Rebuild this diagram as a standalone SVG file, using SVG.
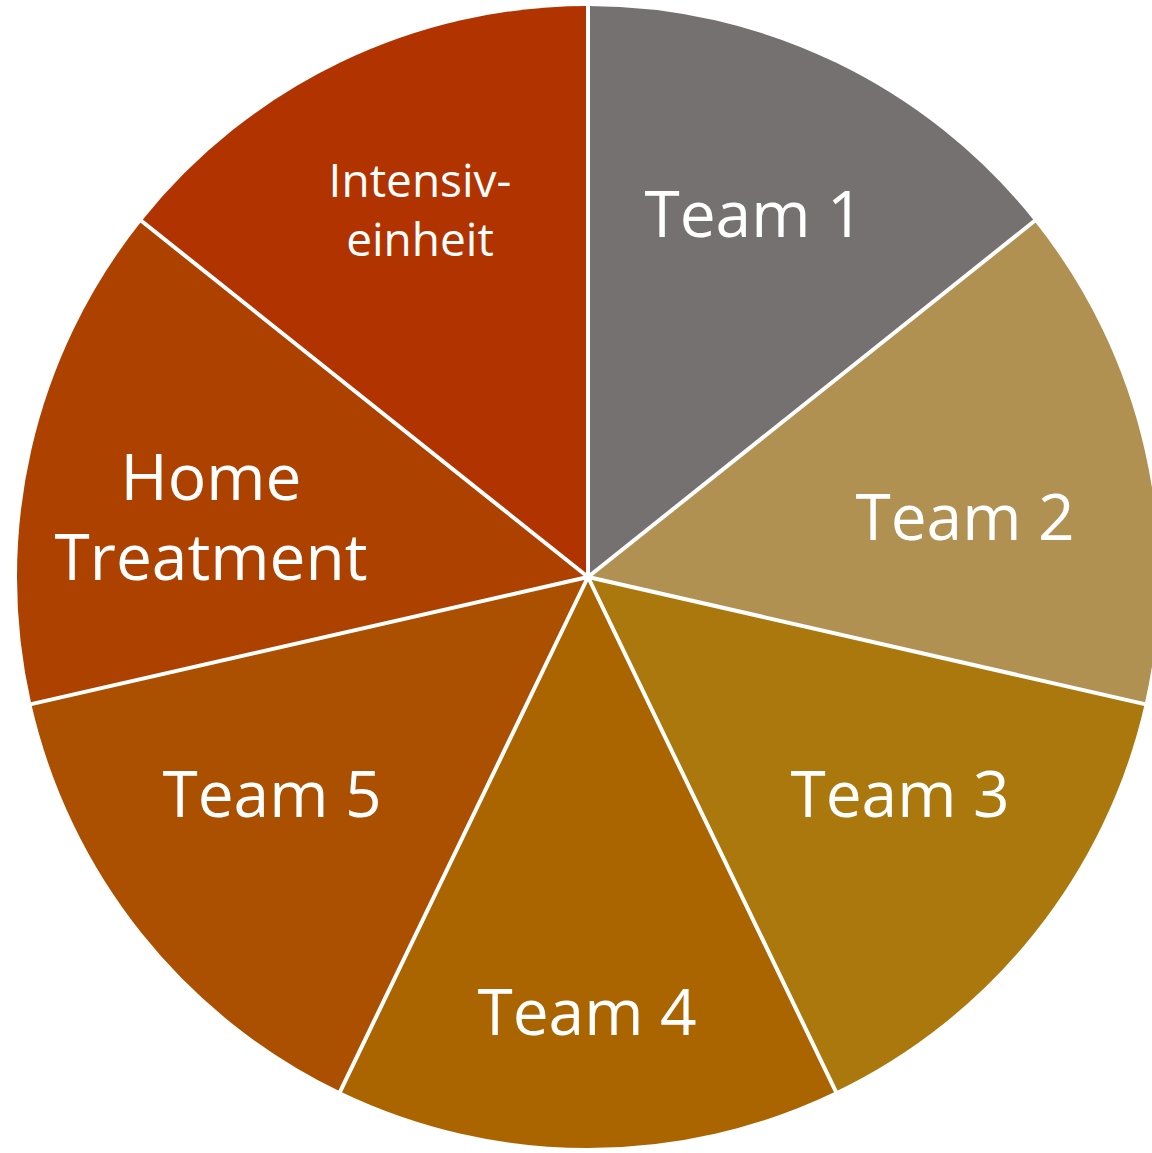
<svg xmlns="http://www.w3.org/2000/svg" width="1152" height="1153" viewBox="0 0 1152 1153">
<style>
.s{stroke:#FFFFFF;stroke-width:4;stroke-linejoin:round}
.t{font-family:"Open Sans","Liberation Sans",sans-serif;fill:#FFFFFF;text-anchor:middle;font-size:64px}
.ts{font-size:46px}
</style>
<rect width="1152" height="1153" fill="#FFFFFF"/>
<g id="team1"><path d="M588,577 L588,6 A571,571 0 0 1 1034.4,221 Z" fill="#767171"/><text class="t" x="754" y="237">Team 1</text></g>
<g id="team2"><path d="M588,577 L1034.4,221 A571,571 0 0 1 1144.7,704.1 Z" fill="#B09152"/><text class="t" x="965" y="540">Team 2</text></g>
<g id="team3"><path d="M588,577 L1144.7,704.1 A571,571 0 0 1 835.8,1091.5 Z" fill="#AB780E"/><text class="t" x="900" y="817">Team 3</text></g>
<g id="team4"><path d="M588,577 L835.8,1091.5 A571,571 0 0 1 340.2,1091.5 Z" fill="#AA6500"/><text class="t" x="587" y="1035">Team 4</text></g>
<g id="team5"><path d="M588,577 L340.2,1091.5 A571,571 0 0 1 31.3,704.1 Z" fill="#AB5000"/><text class="t" x="272" y="817">Team 5</text></g>
<g id="home"><path d="M588,577 L31.3,704.1 A571,571 0 0 1 141.6,221 Z" fill="#AD4200"/><text class="t" x="211" y="500">Home</text><text class="t" x="211" y="580">Treatment</text></g>
<g id="intensiv"><path d="M588,577 L141.6,221 A571,571 0 0 1 588,6 Z" fill="#B13400"/><text class="t ts" x="420" y="197">Intensiv-</text><text class="t ts" x="420" y="256">einheit</text></g>
<g id="connectors">
<path class="s" d="M588,577 L588,4 M588,577 L1036,219.8 M588,577 L1147,704.6 M588,577 L836.7,1093.3 M588,577 L339.3,1093.3 M588,577 L29,704.6 M588,577 L140,219.8" fill="none"/>
</g>
</svg>
